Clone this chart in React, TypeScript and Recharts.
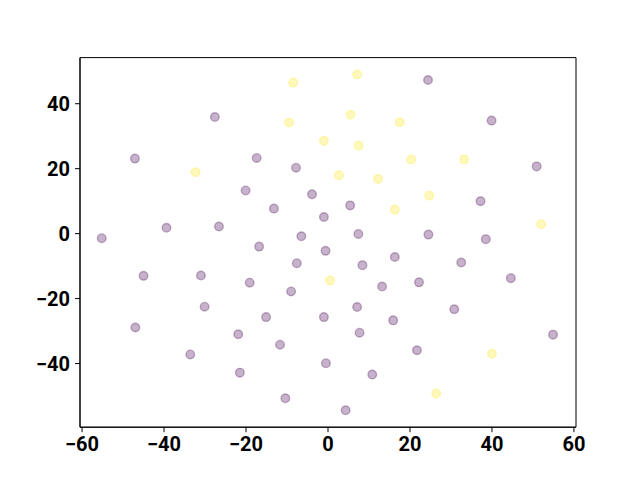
import React from 'react';
import { ScatterChart, Scatter, XAxis, YAxis, ReferenceArea } from 'recharts';

const purpleX = [-27.6, -47.1, -17.4, -7.8, -20.1, -3.9, -13.2, -1.0, -55.2, -39.4, -26.6, -6.5, 24.4, 39.9, 50.9, 37.2, 5.4, 7.4, 24.5, 38.5, -16.8, -0.6, -7.6, -45.0, -31.0, -19.1, -9.0, -30.1, -15.1, -1.0, -47.0, -21.9, -11.7, -33.6, -0.5, -21.5, -10.4, 16.3, 8.4, 32.5, 13.2, 22.2, 44.6, 7.1, 15.9, 30.8, 7.7, 54.9, 21.7, 10.8, 4.3];
const purpleY = [35.9, 23.1, 23.3, 20.3, 13.3, 12.1, 7.7, 5.1, -1.4, 1.8, 2.2, -0.8, 47.3, 34.8, 20.7, 10.0, 8.7, -0.1, -0.3, -1.7, -4.0, -5.3, -9.1, -13.0, -12.9, -15.1, -17.8, -22.5, -25.7, -25.7, -28.9, -31.0, -34.2, -37.2, -39.9, -42.8, -50.7, -7.2, -9.7, -8.9, -16.3, -15.0, -13.7, -22.6, -26.7, -23.3, -30.5, -31.1, -35.9, -43.4, -54.4];

const yellowX = [-8.5, -9.5, -1.0, -32.3, 7.1, 5.5, 17.5, 7.5, 20.3, 33.2, 2.7, 12.2, 24.7, 16.3, 52.0, 0.5, 40.0, 26.4];
const yellowY = [46.5, 34.2, 28.6, 18.9, 49.0, 36.6, 34.3, 27.1, 22.8, 22.8, 18.0, 16.8, 11.7, 7.4, 2.9, -14.4, -37.0, -49.2];

const xTicks = [-60, -40, -20, 0, 20, 40, 60];
const yTicks = [-40, -20, 0, 20, 40];
const xDomain = [-60.5, 60.5];
const yDomain = [-59.6, 54.2];

const purpleData = purpleX.map((x, i) => ({ x, y: purpleY[i] }));
const yellowData = yellowX.map((x, i) => ({ x, y: yellowY[i] }));

const fmt = (v: number) => (v < 0 ? '\u2212' + Math.abs(v) : String(v));

const tickStyle = { fill: '#000', fontSize: 20, fontWeight: 700, fontFamily: 'Roboto' };

const makeDot = (color: string) => (props: any) => (
  <circle
    cx={props.cx}
    cy={props.cy}
    r={4.3}
    fill={color}
    fillOpacity={0.3}
    stroke={color}
    strokeOpacity={0.3}
    strokeWidth={1.4}
  />
);

export default function App() {
  return (
    <div style={{ position: 'absolute', left: 0, top: 0, width: 640, height: 480, background: '#fff' }}>
      <ScatterChart width={640} height={480} margin={{ top: 57.6, right: 64, bottom: 0, left: 0 }}>
        <XAxis
          type="number"
          dataKey="x"
          domain={xDomain}
          ticks={xTicks}
          tickFormatter={fmt}
          height={52.8}
          tickSize={5}
          tickMargin={5}
          tick={tickStyle}
          stroke="#000"
          axisLine={{ stroke: '#000', strokeWidth: 1 }}
          tickLine={{ stroke: '#000' }}
          allowDataOverflow
        />
        <YAxis
          type="number"
          dataKey="y"
          domain={yDomain}
          ticks={yTicks}
          tickFormatter={fmt}
          width={80}
          tickSize={5}
          tickMargin={5}
          tick={tickStyle}
          stroke="#000"
          axisLine={{ stroke: '#000', strokeWidth: 1 }}
          tickLine={{ stroke: '#000' }}
          allowDataOverflow
        />
        <ReferenceArea
          x1={xDomain[0]}
          x2={xDomain[1]}
          y1={yDomain[0]}
          y2={yDomain[1]}
          fill="none"
          fillOpacity={0}
          stroke="#000"
          strokeWidth={1}
          strokeOpacity={1}
          ifOverflow="visible"
        />
        <Scatter data={purpleData} shape={makeDot('#440154')} isAnimationActive={false} />
        <Scatter data={yellowData} shape={makeDot('#fde725')} isAnimationActive={false} />
      </ScatterChart>
    </div>
  );
}
